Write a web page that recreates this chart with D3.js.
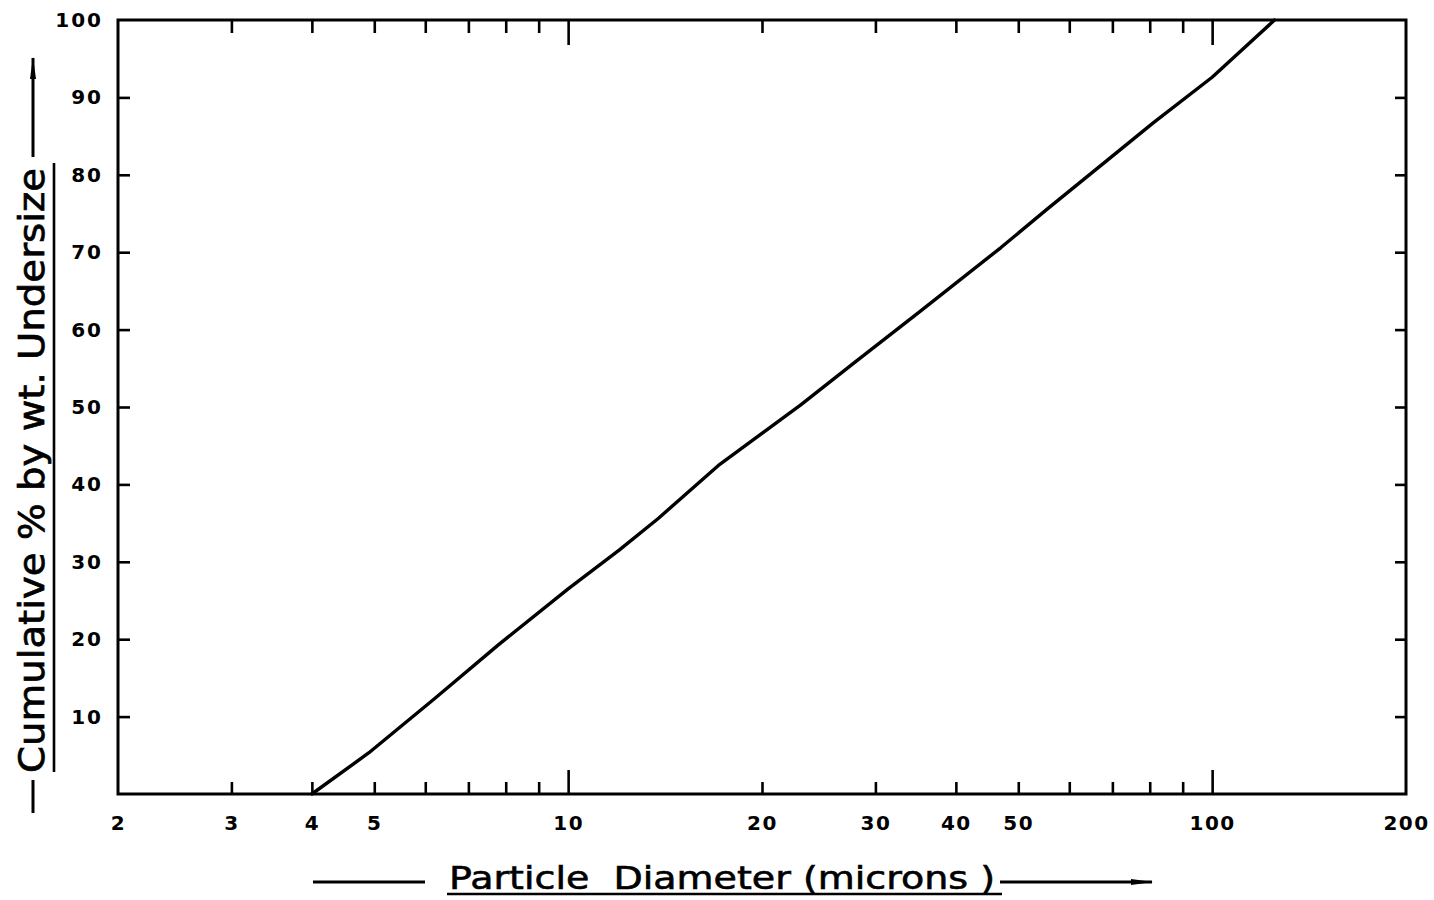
<!DOCTYPE html>
<html>
<head>
<meta charset="utf-8">
<script src="https://cdn.jsdelivr.net/npm/d3@7"></script>
<style>
  html, body { margin: 0; padding: 0; background: #fff; }
  svg { display: block; }
  text { fill: #000; }
</style>
</head>
<body>
<svg id="chart" width="1434" height="900"></svg>
<script>
// Particle size distribution: cumulative % by weight undersize vs. diameter
const diameter   = [4.0, 4.9, 6.2, 7.8, 10, 12, 13.8, 17.2, 23, 27.7, 35, 47, 55.5, 69, 81, 100, 125];
const cumulative = [0, 5.3, 12.3, 19.3, 26.5, 31.5, 35.6, 42.6, 50.3, 55.6, 62.2, 70.6, 75.6, 82, 86.7, 92.6, 100];

const xLabelTicks = [2, 3, 4, 5, 10, 20, 30, 40, 50, 100, 200];
const xMinorTicks = [3, 4, 5, 6, 7, 8, 9, 20, 30, 40, 50, 60, 70, 80, 90];
const xMajorTicks = [10, 100];
const yLabelTicks = [10, 20, 30, 40, 50, 60, 70, 80, 90, 100];
const yMarkTicks  = [10, 20, 30, 40, 50, 60, 70, 80, 90];

const xTitle = "Particle  Diameter (microns )";
const yTitle = "Cumulative % by wt. Undersize";

const svg = d3.select("#chart");
const L = 118, R = 1406, T = 20, B = 794;

const x = d3.scaleLog().domain([2, 200]).range([L, R]);
const y = d3.scaleLinear().domain([0, 100]).range([B, T]);

const tickFont = "'DejaVu Sans', sans-serif";

function styleAxis(g) {
  g.select(".domain").remove();
  g.selectAll(".tick line").attr("stroke", "#000").attr("stroke-width", 2.6);
}

// bottom: minor + major ticks pointing inward
svg.append("g").attr("transform", `translate(0,${B})`)
  .call(d3.axisBottom(x).tickValues(xMinorTicks).tickSize(-12).tickFormat(""))
  .call(styleAxis);
svg.append("g").attr("transform", `translate(0,${B})`)
  .call(d3.axisBottom(x).tickValues(xMajorTicks).tickSize(-24).tickFormat(""))
  .call(styleAxis);
// bottom labels
svg.append("g").attr("transform", `translate(0,${B})`)
  .call(d3.axisBottom(x).tickValues(xLabelTicks).tickSize(0).tickPadding(22).tickFormat(d3.format("d")))
  .call(g => {
    g.select(".domain").remove();
    g.selectAll(".tick line").remove();
    g.selectAll("text")
      .attr("font-family", tickFont).attr("font-size", 20).attr("font-weight", "bold")
      .attr("letter-spacing", 1.5).attr("fill", "#000");
  });

// top: ticks pointing inward
svg.append("g").attr("transform", `translate(0,${T})`)
  .call(d3.axisTop(x).tickValues(xMinorTicks).tickSize(-13).tickFormat(""))
  .call(styleAxis);
svg.append("g").attr("transform", `translate(0,${T})`)
  .call(d3.axisTop(x).tickValues(xMajorTicks).tickSize(-25).tickFormat(""))
  .call(styleAxis);

// left ticks + labels
svg.append("g").attr("transform", `translate(${L},0)`)
  .call(d3.axisLeft(y).tickValues(yMarkTicks).tickSize(-12).tickFormat(""))
  .call(styleAxis);
svg.append("g").attr("transform", `translate(${L},0)`)
  .call(d3.axisLeft(y).tickValues(yLabelTicks).tickSize(0).tickPadding(15).tickFormat(d3.format("d")))
  .call(g => {
    g.select(".domain").remove();
    g.selectAll(".tick line").remove();
    g.selectAll("text")
      .attr("font-family", tickFont).attr("font-size", 20).attr("font-weight", "bold")
      .attr("letter-spacing", 2).attr("fill", "#000");
  });

// right ticks
svg.append("g").attr("transform", `translate(${R},0)`)
  .call(d3.axisRight(y).tickValues(yMarkTicks).tickSize(-11).tickFormat(""))
  .call(styleAxis);

// frame
svg.append("rect")
  .attr("x", L).attr("y", T).attr("width", R - L).attr("height", B - T)
  .attr("fill", "none").attr("stroke", "#000").attr("stroke-width", 3);

// distribution curve
const pts = diameter.map((d, i) => [d, cumulative[i]]);
svg.append("path")
  .datum(pts)
  .attr("fill", "none")
  .attr("stroke", "#000")
  .attr("stroke-width", 3.4)
  .attr("stroke-linejoin", "round")
  .attr("stroke-linecap", "round")
  .attr("d", d3.line().x(d => x(d[0])).y(d => y(d[1])));

// arrowhead marker
const defs = svg.append("defs");
defs.append("marker")
  .attr("id", "arrow")
  .attr("viewBox", "0 0 22 9")
  .attr("refX", 21).attr("refY", 4.5)
  .attr("markerWidth", 22).attr("markerHeight", 9)
  .attr("markerUnits", "userSpaceOnUse")
  .attr("orient", "auto")
  .append("path").attr("d", "M0,1.5 L22,4.5 L0,7.5 Z").attr("fill", "#000");

// x-axis title with leader dashes and arrow
const titleFont = "'DejaVu Sans', sans-serif";
svg.append("line").attr("x1", 313).attr("x2", 425).attr("y1", 882).attr("y2", 882)
  .attr("stroke", "#000").attr("stroke-width", 3);
svg.append("text")
  .attr("x", 449).attr("y", 889)
  .attr("font-family", titleFont).attr("font-size", 32)
  .attr("stroke", "#000").attr("stroke-width", 0.6)
  .attr("textLength", 546).attr("lengthAdjust", "spacingAndGlyphs")
  .style("white-space", "pre")
  .text(xTitle);
svg.append("line").attr("x1", 447).attr("x2", 1002).attr("y1", 894).attr("y2", 894)
  .attr("stroke", "#000").attr("stroke-width", 2.6);
svg.append("line").attr("x1", 1000).attr("x2", 1152).attr("y1", 882).attr("y2", 882)
  .attr("stroke", "#000").attr("stroke-width", 3)
  .attr("marker-end", "url(#arrow)");

// y-axis title (rotated) with leader dash and arrow
svg.append("line").attr("x1", 33).attr("x2", 33).attr("y1", 813).attr("y2", 780)
  .attr("stroke", "#000").attr("stroke-width", 3);
svg.append("text")
  .attr("transform", "translate(44,773) rotate(-90)")
  .attr("font-family", titleFont).attr("font-size", 36)
  .attr("stroke", "#000").attr("stroke-width", 0.7)
  .attr("textLength", 605).attr("lengthAdjust", "spacingAndGlyphs")
  .text(yTitle);
svg.append("line").attr("x1", 54).attr("x2", 54).attr("y1", 772).attr("y2", 163)
  .attr("stroke", "#000").attr("stroke-width", 2.6);
svg.append("line").attr("x1", 33).attr("x2", 33).attr("y1", 157).attr("y2", 58)
  .attr("stroke", "#000").attr("stroke-width", 3)
  .attr("marker-end", "url(#arrow)");
</script>
</body>
</html>
